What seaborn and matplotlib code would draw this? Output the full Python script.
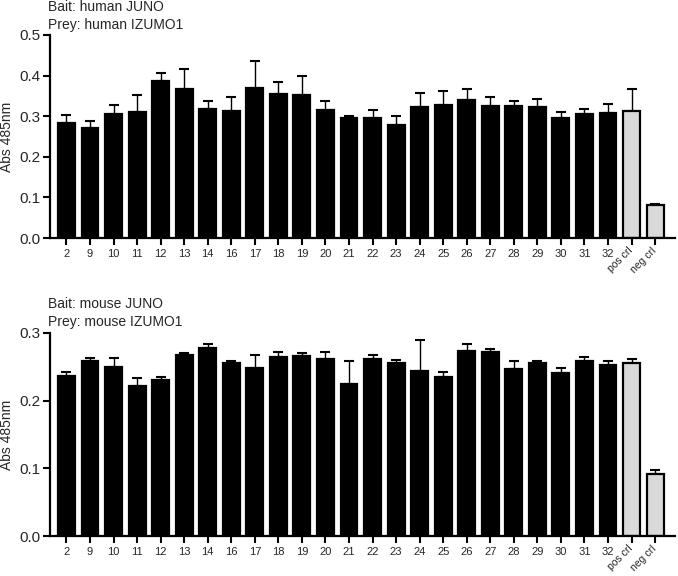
import numpy as np
import pandas as pd
import matplotlib
matplotlib.use("Agg")
import matplotlib.pyplot as plt
import seaborn as sns

# --------------------------
# DATA
# --------------------------
labels = ["2", "9", "10", "11", "12", "13", "14", "16", "17", "18", "19", "20",
          "21", "22", "23", "24", "25", "26", "27", "28", "29", "30", "31", "32",
          "pos crl", "neg crl"]

human_mean = [0.282, 0.272, 0.305, 0.311, 0.386, 0.366, 0.318, 0.313, 0.369, 0.354,
              0.351, 0.315, 0.296, 0.296, 0.279, 0.322, 0.328, 0.339, 0.326, 0.324,
              0.323, 0.296, 0.305, 0.307, 0.313, 0.081]
human_top = [0.303, 0.287, 0.328, 0.352, 0.406, 0.416, 0.338, 0.346, 0.436, 0.383,
             0.399, 0.337, 0.300, 0.316, 0.300, 0.357, 0.362, 0.367, 0.346, 0.337,
             0.343, 0.310, 0.317, 0.330, 0.367, 0.084]

mouse_mean = [0.237, 0.259, 0.250, 0.222, 0.231, 0.267, 0.278, 0.256, 0.249, 0.265,
              0.266, 0.262, 0.224, 0.261, 0.255, 0.244, 0.235, 0.273, 0.272, 0.247,
              0.256, 0.2415, 0.259, 0.253, 0.255, 0.0915]
mouse_top = [0.2425, 0.263, 0.263, 0.234, 0.235, 0.270, 0.284, 0.258, 0.268, 0.2725,
             0.270, 0.272, 0.258, 0.268, 0.260, 0.289, 0.243, 0.284, 0.276, 0.259,
             0.258, 0.248, 0.265, 0.259, 0.261, 0.098]

colors = ["black"] * 24 + ["#d9d9d9", "#d9d9d9"]

# --------------------------
# PLOT
# --------------------------
sns.set_style("ticks")
plt.rcParams["font.family"] = ["Liberation Sans", "DejaVu Sans"]

fig = plt.figure(figsize=(6.78, 5.76), dpi=100)
ax1 = fig.add_axes([0.0737, 0.5868, 0.922, 0.3525])
ax2 = fig.add_axes([0.0737, 0.0694, 0.922, 0.3525])


def draw_panel(ax, mean, top, ymax, bait, prey, ytext):
    df = pd.DataFrame({"label": labels, "value": mean})
    x = np.arange(len(labels))
    up = np.array(top) - np.array(mean)
    ax.errorbar(x, mean, yerr=[np.zeros(len(mean)), up], fmt="none",
                ecolor="black", elinewidth=1.0, capsize=3.6, capthick=1.5, zorder=1)
    sns.barplot(data=df, x="label", y="value", hue="label", palette=colors,
                legend=False, width=0.72, edgecolor="black", linewidth=1.6,
                errorbar=None, ax=ax, zorder=2)
    ax.set_xlim(-0.7, len(labels) - 1 + 0.85)
    ax.set_ylim(0, ymax)
    yt = np.arange(0, ymax + 0.001, 0.1)
    ax.set_yticks(yt)
    ax.set_yticklabels([f"{v:.1f}" for v in yt], fontsize=11)
    ax.set_xticks(x)
    ax.set_xticklabels(labels, fontsize=8)
    for t in ax.get_xticklabels()[-2:]:
        t.set_rotation(45)
        t.set_ha("right")
        t.set_va("center")
        t.set_rotation_mode("anchor")
        t.set_fontsize(7.5)
    ax.set_xlabel("")
    ax.set_ylabel("")
    ax.tick_params(axis="both", width=1.5, length=5, color="black")
    ax.tick_params(axis="x", pad=3)
    ax.tick_params(axis="y", pad=2)
    for s in ["left", "bottom"]:
        ax.spines[s].set_linewidth(1.6)
        ax.spines[s].set_color("black")
    sns.despine(ax=ax)
    pos = ax.get_position()
    fig.text(0.011, (pos.y0 + pos.y1) / 2, "Abs 485nm", rotation=90,
             fontsize=10, ha="center", va="center")
    fig.text(0.071, ytext, bait, fontsize=10, va="center")
    fig.text(0.071, ytext - 0.031, prey, fontsize=10, va="center")


draw_panel(ax1, human_mean, human_top, 0.5,
           "Bait: human JUNO", "Prey: human IZUMO1", 0.988)
draw_panel(ax2, mouse_mean, mouse_top, 0.3,
           "Bait: mouse JUNO", "Prey: mouse IZUMO1", 0.472)

plt.savefig("out.png", dpi=100)
